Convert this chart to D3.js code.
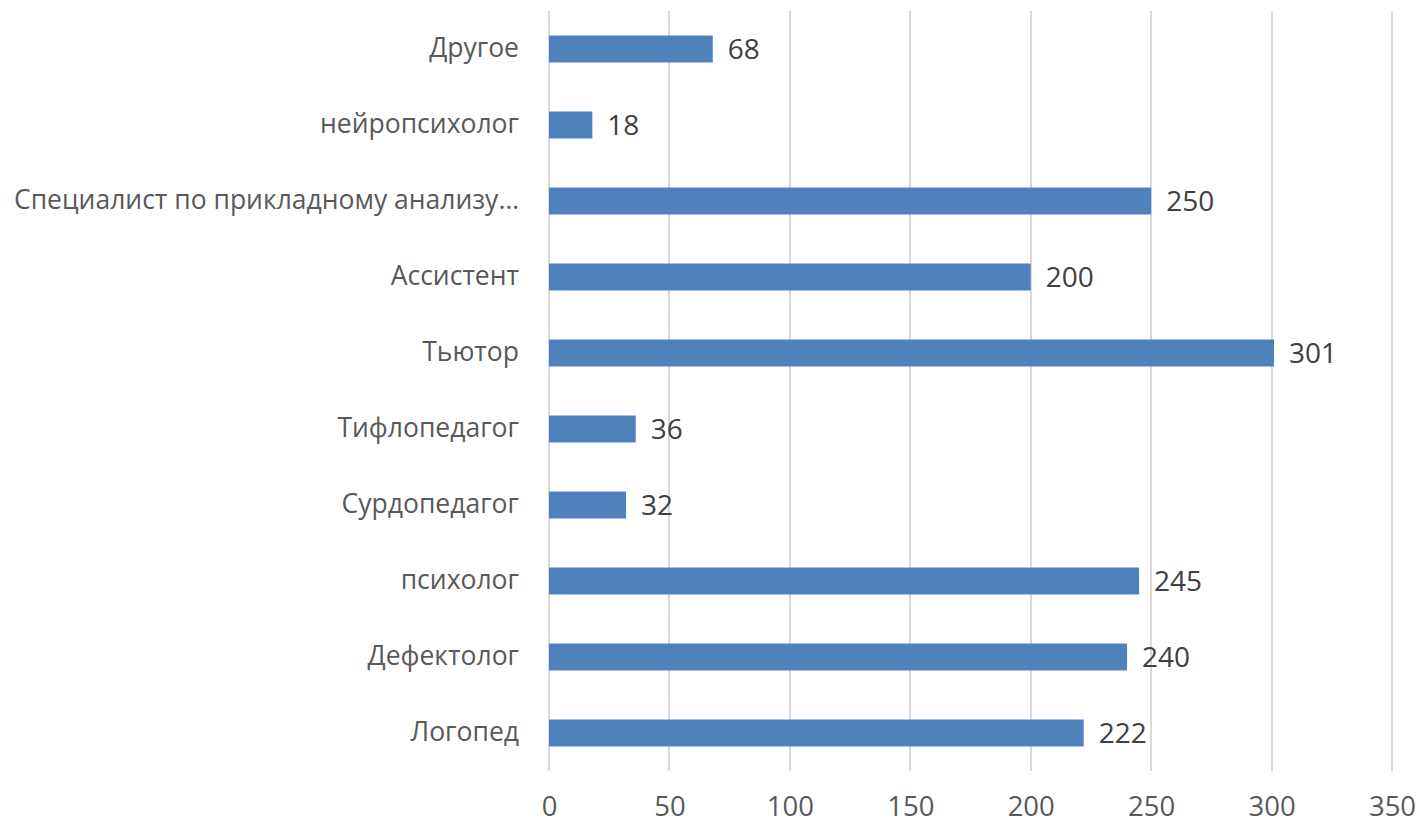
<!DOCTYPE html>
<html>
<head>
<meta charset="utf-8">
<script src="https://cdn.jsdelivr.net/npm/d3@7"></script>
<style>
  body { margin: 0; background: #fff; }
  text { font-family: "Open Sans", "Noto Sans", sans-serif; }
</style>
</head>
<body>
<svg width="1420" height="825"></svg>
<script>
// categories listed bottom to top, as in the source sheet
var categories = ["Логопед", "Дефектолог", "психолог", "Сурдопедагог", "Тифлопедагог",
                  "Тьютор", "Ассистент", "Специалист по прикладному анализу…", "нейропсихолог", "Другое"];
var values = [222, 240, 245, 32, 36, 301, 200, 250, 18, 68];
var xTicks = [0, 50, 100, 150, 200, 250, 300, 350];

var svg = d3.select("svg");
var plotLeft = 549, plotRight = 1392, plotTop = 11, plotBottom = 771;

var x = d3.scaleLinear().domain([0, 350]).range([plotLeft, plotRight]);
var y = d3.scaleBand()
    .domain(categories.slice().reverse())
    .range([plotTop, plotBottom])
    .paddingInner(0.645)
    .paddingOuter(0.3225);

// gridlines
svg.append("g")
  .selectAll("line")
  .data(xTicks)
  .enter().append("line")
    .attr("x1", d => Math.round(x(d)))
    .attr("x2", d => Math.round(x(d)))
    .attr("y1", plotTop)
    .attr("y2", plotBottom)
    .attr("stroke", "#d9d9d9")
    .attr("stroke-width", 2);

// x axis labels
var xAxis = svg.append("g")
    .attr("transform", `translate(0,${plotBottom})`)
    .call(d3.axisBottom(x).tickValues(xTicks).tickSize(0).tickPadding(25));
xAxis.select(".domain").remove();
xAxis.selectAll("text")
    .attr("font-size", 27.5)
    .attr("fill", "#595959")
    .style("font-family", "Open Sans");

// y labels
var yAxis = svg.append("g")
    .attr("transform", `translate(${plotLeft},0)`)
    .call(d3.axisLeft(y).tickSize(0).tickPadding(30));
yAxis.select(".domain").remove();
yAxis.selectAll("text")
    .attr("font-size", 26.5)
    .attr("fill", "#595959")
    .style("font-family", "Open Sans");

// bars
var rows = categories.map((c, i) => ({ cat: c, val: values[i] }));
svg.append("g")
  .selectAll("rect")
  .data(rows)
  .enter().append("rect")
    .attr("x", x(0))
    .attr("y", d => y(d.cat))
    .attr("width", d => x(d.val) - x(0))
    .attr("height", y.bandwidth())
    .attr("fill", "#4f81bd");

// value labels
svg.append("g")
  .selectAll("text")
  .data(rows)
  .enter().append("text")
    .attr("x", d => x(d.val) + 15)
    .attr("y", d => y(d.cat) + y.bandwidth() / 2)
    .attr("dy", "0.35em")
    .attr("font-size", 28)
    .attr("fill", "#404040")
    .text(d => d.val);
</script>
</body>
</html>
